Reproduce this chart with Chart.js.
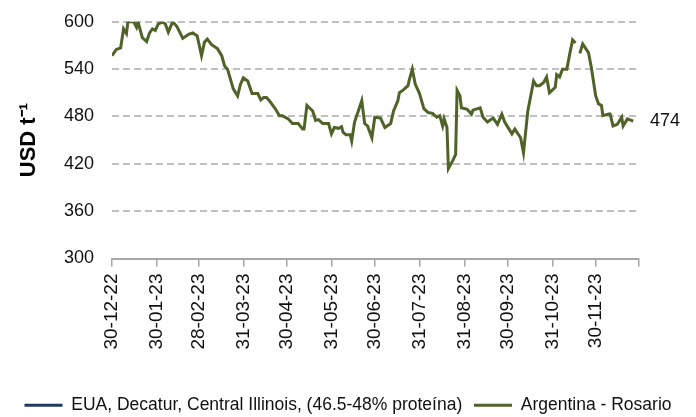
<!DOCTYPE html>
<html>
<head>
<meta charset="utf-8">
<script src="https://cdn.jsdelivr.net/npm/chart.js@4.4.1/dist/chart.umd.min.js"></script>
<style>
  body { margin: 0; background: #fff; }
</style>
</head>
<body>
<canvas id="chart" width="696" height="417"></canvas>
<script>
// data (dd-mm-yy)
const rosarioDates = [
  "30-12-22","02-01-23","05-01-23","07-01-23","09-01-23","10-01-23","14-01-23","16-01-23","17-01-23","20-01-23",
  "23-01-23","25-01-23","27-01-23","29-01-23","31-01-23","03-02-23","05-02-23","07-02-23","10-02-23","13-02-23",
  "17-02-23","21-02-23","24-02-23","27-02-23","02-03-23","04-03-23","06-03-23","09-03-23","13-03-23","16-03-23",
  "18-03-23","20-03-23","24-03-23","27-03-23","29-03-23","31-03-23","03-04-23","06-04-23","10-04-23","12-04-23",
  "14-04-23","16-04-23","18-04-23","22-04-23","25-04-23","27-04-23","01-05-23","04-05-23","08-05-23","11-05-23",
  "12-05-23","14-05-23","18-05-23","20-05-23","22-05-23","25-05-23","29-05-23","31-05-23","02-06-23","05-06-23",
  "07-06-23","08-06-23","10-06-23","13-06-23","14-06-23","16-06-23","21-06-23","23-06-23","25-06-23","28-06-23",
  "30-06-23","04-07-23","07-07-23","11-07-23","13-07-23","16-07-23","17-07-23","20-07-23","23-07-23","24-07-23",
  "26-07-23","28-07-23","31-07-23","03-08-23","06-08-23","09-08-23","12-08-23","14-08-23","16-08-23","17-08-23",
  "19-08-23","20-08-23","23-08-23","25-08-23","26-08-23","28-08-23","29-08-23","02-09-23","05-09-23","06-09-23",
  "11-09-23","13-09-23","16-09-23","20-09-23","23-09-23","26-09-23","28-09-23","03-10-23","05-10-23","09-10-23",
  "11-10-23","14-10-23","18-10-23","20-10-23","22-10-23","25-10-23","27-10-23","29-10-23","02-11-23","03-11-23",
  "05-11-23","07-11-23","10-11-23","12-11-23","14-11-23","16-11-23","17-11-23","19-11-23","21-11-23","25-11-23",
  "27-11-23","30-11-23","02-12-23","04-12-23","05-12-23","09-12-23","10-12-23","12-12-23","15-12-23","18-12-23",
  "19-12-23","22-12-23","26-12-23"
];
const rosarioValues = [
  557,565,567,591,585,600,600,593,600,580,
  575,586,591,589,597,600,597,587,600,594,
  579,584,586,582,557,574,578,571,566,557,
  544,540,515,506,521,529,525,509,509,501,
  504,504,500,490,481,481,477,471,471,464,
  464,494,487,475,476,471,471,458,466,465,
  467,460,457,457,449,473,500,471,468,453,
  479,478,466,471,487,500,510,514,519,527,
  540,521,509,490,485,484,479,481,468,477,
  466,414,424,432,513,506,491,489,483,488,
  491,479,473,478,470,483,473,458,464,453,
  434,487,525,519,519,523,530,510,517,533,
  530,540,540,559,577,573,null,560,572,561,
  542,506,496,494,481,483,483,468,470,479,
  468,477,474
];
const decaturValues = []; // off the top of the scale, only in the legend

const tickLabels = ["30-12-22","30-01-23","28-02-23","31-03-23","30-04-23","31-05-23",
                    "30-06-23","31-07-23","31-08-23","30-09-23","31-10-23","30-11-23"];
const axisEnd = "30-12-23";
const yMin = 300, yMax = 600, yStep = 60;

const seriesNames = ["EUA, Decatur, Central Illinois, (46.5-48% proteína)", "Argentina - Rosario"];

function dayIndex(s) {
  const p = s.split("-").map(Number);
  return Math.round((Date.UTC(2000 + p[2], p[1] - 1, p[0]) - Date.UTC(2022, 11, 30)) / 86400000);
}

const tickDays = tickLabels.map(dayIndex);
const endDay = dayIndex(axisEnd);
const rosarioPoints = rosarioDates.map((d, i) => ({ x: dayIndex(d), y: rosarioValues[i] }));
const lastValue = rosarioValues[rosarioValues.length - 1];

const sans = "'Liberation Sans', sans-serif";
Chart.defaults.color = "#111";

new Chart(document.getElementById("chart").getContext("2d"), {
  type: "line",
  data: {
    datasets: [
      {
        label: seriesNames[0] + "  ",
        data: decaturValues,
        borderColor: "#1f3864",
        backgroundColor: "#1f3864",
        borderWidth: 3,
        pointRadius: 0,
        pointStyle: "line"
      },
      {
        label: seriesNames[1],
        data: rosarioPoints,
        borderColor: "#4f6228",
        backgroundColor: "#4f6228",
        borderWidth: 3,
        pointRadius: 0,
        pointStyle: "line",
        tension: 0,
        spanGaps: false
      }
    ]
  },
  options: {
    responsive: false,
    animation: false,
    layout: { padding: { top: 21, left: 0, right: 0, bottom: -7 } },
    plugins: {
      tooltip: { enabled: false },
      legend: {
        position: "bottom",
        labels: {
          usePointStyle: true,
          pointStyleWidth: 38,
          boxHeight: 3,
          padding: 2,
          font: { family: sans, size: 17.5 },
          color: "#111"
        }
      }
    },
    scales: {
      x: {
        type: "linear",
        min: 0,
        max: endDay,
        afterBuildTicks: (scale) => {
          scale.ticks = tickDays.concat([endDay]).map((v) => ({ value: v }));
        },
        afterFit: (scale) => { scale.height = 136; },
        ticks: {
          autoSkip: false,
          minRotation: 90,
          maxRotation: 90,
          padding: 7,
          font: { family: sans, size: 19 },
          callback: (v) => {
            const i = tickDays.indexOf(v);
            return i >= 0 ? tickLabels[i] : "";
          }
        },
        grid: {
          display: true,
          drawOnChartArea: false,
          drawTicks: true,
          tickLength: 8,
          color: "#a6a6a6",
          lineWidth: 1.5
        },
        border: { display: true, color: "#a6a6a6", width: 2 }
      },
      y: {
        min: yMin,
        max: yMax,
        afterFit: (scale) => { scale.width = 112; },
        ticks: {
          stepSize: yStep,
          padding: 0,
          font: { family: sans, size: 18 }
        },
        title: {
          display: true,
          text: "USD t⁻¹",
          font: { family: sans, size: 22, weight: "bold" },
          color: "#000",
          padding: { top: 16, bottom: 0 }
        },
        grid: {
          color: "#c0c0c0",
          lineWidth: 2,
          drawTicks: true,
          tickLength: 18,
          tickColor: "rgba(0,0,0,0)"
        },
        border: { display: false, dash: [7, 4] }
      },
      y2: {
        position: "right",
        min: yMin,
        max: yMax,
        afterBuildTicks: (scale) => { scale.ticks = [{ value: lastValue }]; },
        afterFit: (scale) => { scale.width = 57; },
        ticks: {
          padding: 11,
          font: { family: sans, size: 18 },
          callback: (v) => String(v)
        },
        grid: { display: false, drawTicks: false },
        border: { display: false }
      }
    }
  }
});
</script>
</body>
</html>
